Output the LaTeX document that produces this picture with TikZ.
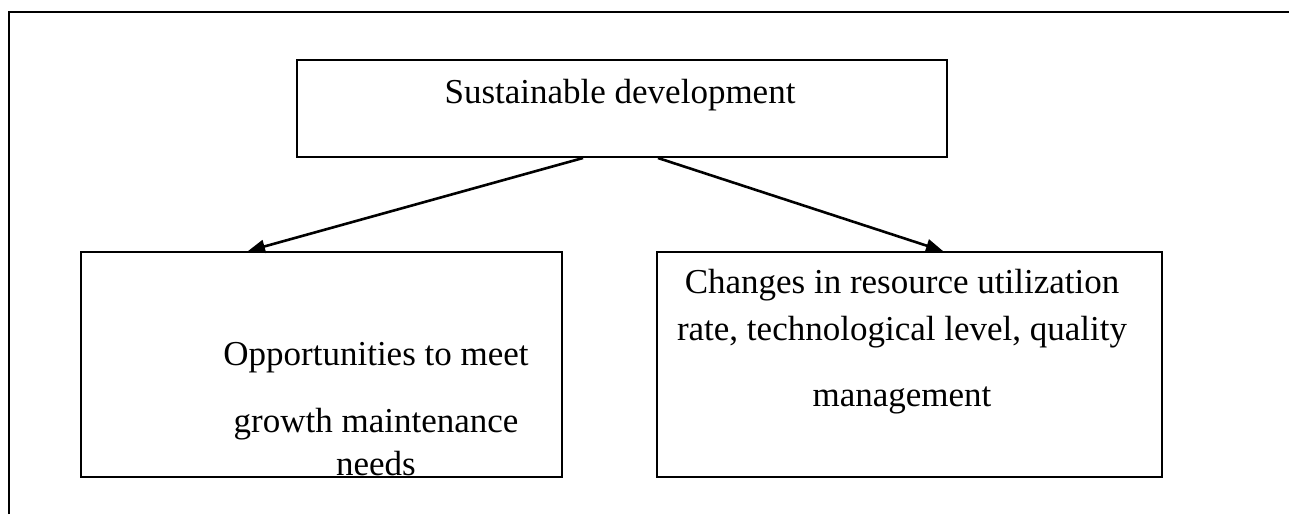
\documentclass[tikz,border=0pt]{standalone}
\usepackage{fontspec}
\setmainfont{Liberation Serif}
\usetikzlibrary{arrows.meta,calc}
\begin{document}
\begin{tikzpicture}[x=1pt,y=-1pt,
  box/.style={draw, line width=2pt, rectangle, inner sep=0pt},
  txt/.style={anchor=base, font=\fontsize{35}{40}\selectfont, inner sep=0pt},
  link/.style={line width=2.6pt, -{Triangle[length=17pt,width=13pt]}}]
\useasboundingbox (0,0) rectangle (1289,514);
% open frame: left and top edges
\draw[line width=2pt] (9,514) -- (9,12) -- (1289,12);
% boxes
\node[box, minimum width=650pt, minimum height=97pt] (top) at (622,108.5) {};
\node[box, minimum width=481pt, minimum height=225pt] (left) at (321.5,364.5) {};
\node[box, minimum width=505pt, minimum height=225pt] (right) at (909.5,364.5) {};
% texts
\node[txt] (t0) at (620,103) {Sustainable development};
\node[txt] (l1) at (376,365) {Opportunities to meet};
\node[txt] (l2) at (376,432) {growth maintenance};
\node[txt] (l3) at (376,475) {needs};
\node[txt] (r1) at (902,293) {Changes in resource utilization};
\node[txt] (r2) at (902,340) {rate, technological level, quality};
\node[txt] (r3) at (902,406) {management};
% connectors
\coordinate (s1) at ($(top.south)+(-39,0)$);
\coordinate (s2) at ($(top.south)+(36,0)$);
\coordinate (e1) at ($(left.north)+(-73.5,0)$);
\coordinate (e2) at ($(right.north)+(33.5,0)$);
\draw[link] (s1) -- (e1);
\draw[link] (s2) -- (e2);
\end{tikzpicture}
\end{document}
